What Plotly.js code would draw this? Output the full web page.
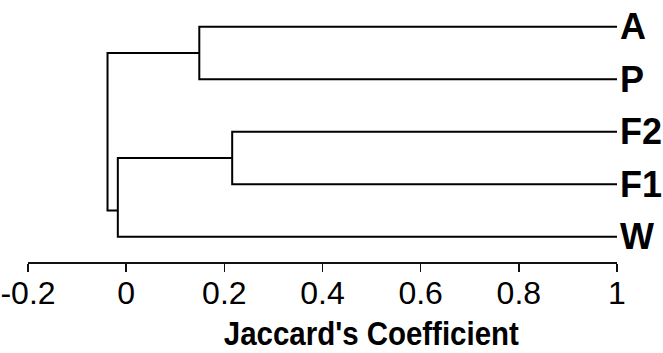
<!DOCTYPE html>
<html><head><meta charset="utf-8">
<script src="https://cdn.plot.ly/plotly-3.0.1.min.js"></script>
<style>html,body{margin:0;padding:0;background:#fff}#chart{width:663px;height:353px}</style>
</head><body><div id="chart"></div>
<script>
// leaves, bottom to top
const leafLabels = ['W', 'F1', 'F2', 'P', 'A'];
const leafHeight = 1;
// merges (Jaccard's coefficient at which the clusters join)
const mergeLeft = ['A', 'F2', 'F', 'AP'];
const mergeRight = ['P', 'F1', 'W', 'FW'];
const mergeNames = ['AP', 'F', 'FW', 'ROOT'];
const mergeHeights = [0.149, 0.216, -0.017, -0.038];
const xTickVals = [-0.2, 0, 0.2, 0.4, 0.6, 0.8, 1];
const xTickText = ['-0.2', '0', '0.2', '0.4', '0.6', '0.8', '1'];
const axisTitle = "Jaccard's Coefficient";

const nodes = {};
leafLabels.forEach((n, i) => { nodes[n] = {x: leafHeight, y: i, lo: i, hi: i}; });
const traces = [];
mergeNames.forEach((name, k) => {
  const a = nodes[mergeLeft[k]], b = nodes[mergeRight[k]], h = mergeHeights[k];
  traces.push({type: 'scatter', mode: 'lines', x: [a.x, h, h, b.x], y: [a.y, a.y, b.y, b.y],
    line: {color: '#000', width: 2}, hoverinfo: 'skip', showlegend: false});
  const upper = a.lo > b.lo ? a : b, lower = a.lo > b.lo ? b : a;
  nodes[name] = {x: h, y: (upper.lo + lower.hi) / 2, lo: Math.min(a.lo, b.lo), hi: Math.max(a.hi, b.hi)};
});

const sans = '"Liberation Sans", Arial, sans-serif';
const layout = {
  width: 663, height: 353,
  margin: {l: 28, r: 46, t: 0, b: 91},
  paper_bgcolor: '#fff', plot_bgcolor: '#fff',
  showlegend: false,
  xaxis: {
    range: [-0.2, 1], tickmode: 'array', tickvals: xTickVals, ticktext: xTickText,
    ticks: 'outside', ticklen: 8, tickwidth: 1.5, tickcolor: '#111',
    showline: true, linecolor: '#111', linewidth: 1.5,
    showgrid: false, zeroline: false, ticklabelstandoff: -6,
    tickfont: {family: sans, size: 32, color: '#000'}
  },
  yaxis: {
    range: [-0.482, 4.509], side: 'right', tickmode: 'array',
    tickvals: leafLabels.map((_, i) => i), ticktext: leafLabels.map(s => '<b>' + s + '</b>'),
    ticks: '', showline: false, showgrid: false, zeroline: false, ticklabelstandoff: 2,
    tickfont: {family: sans, size: 36, color: '#000'}
  },
  annotations: [{
    text: '<b>' + axisTitle + '</b>', x: 0.5, xref: 'x', y: -0.272, yref: 'paper',
    xanchor: 'center', yanchor: 'middle', showarrow: false,
    font: {family: sans, size: 33, color: '#000'}
  }]
};
Plotly.newPlot('chart', traces, layout, {staticPlot: true, displayModeBar: false}).then(gd => {
  // condensed look of the original axis title
  gd.querySelectorAll('.annotation-text').forEach(t => {
    t.setAttribute('textLength', '295');
    t.setAttribute('lengthAdjust', 'spacingAndGlyphs');
  });
});
</script>
</body></html>
